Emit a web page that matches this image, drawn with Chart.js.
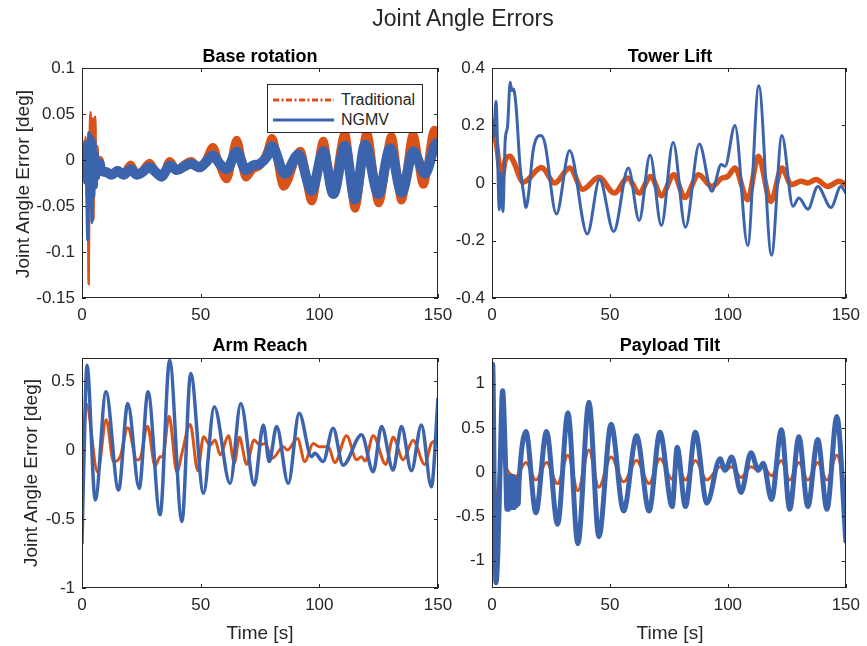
<!DOCTYPE html>
<html><head><meta charset="utf-8">
<script src="https://cdn.jsdelivr.net/npm/chart.js@4.4.1/dist/chart.umd.min.js"></script>
<style>
html,body{margin:0;padding:0;background:#fff;}
#fig{position:relative;width:867px;height:646px;overflow:hidden;font-family:'Liberation Sans',Arial,Helvetica,sans-serif;color:#262626;background:#fff;}
#fig canvas{position:absolute;left:0;top:0;}
.t{position:absolute;white-space:nowrap;transform:translate(-50%,-50%);line-height:1;z-index:5;}
.sub{font-weight:bold;font-size:18px;color:#000;}
.ax{font-size:19px;}
.rot{transform:translate(-50%,-50%) rotate(-90deg);}
#legend{position:absolute;left:267px;top:84px;width:154px;height:47px;border:1px solid #262626;background:#fff;z-index:6;font-size:16px;}
#legend svg{position:absolute;left:0;top:0;}
#legend span{position:absolute;left:73px;transform:translateY(-50%);line-height:1;}
</style>
</head><body>
<div id="fig">
<canvas id="c1" width="867" height="646"></canvas>
<canvas id="c2" width="867" height="646"></canvas>
<canvas id="c3" width="867" height="646"></canvas>
<canvas id="c4" width="867" height="646"></canvas>
<div class="t" style="left:463px;top:18px;font-size:23px;">Joint Angle Errors</div>
<div class="t sub" style="left:260px;top:56px;">Base rotation</div>
<div class="t sub" style="left:670px;top:56px;">Tower Lift</div>
<div class="t sub" style="left:260px;top:345px;">Arm Reach</div>
<div class="t sub" style="left:670px;top:345px;">Payload Tilt</div>
<div class="t ax rot" style="left:22px;top:184px;">Joint Angle Error [deg]</div>
<div class="t ax rot" style="left:30px;top:473px;">Joint Angle Error [deg]</div>
<div class="t ax" style="left:260px;top:632px;">Time [s]</div>
<div class="t ax" style="left:670px;top:632px;">Time [s]</div>
<div id="legend">
<svg width="154" height="47"><line x1="5" y1="15" x2="66" y2="15" stroke="#d95319" stroke-width="3" stroke-dasharray="6,2.5,2,2.5"/><line x1="5" y1="35" x2="66" y2="35" stroke="#3c64ad" stroke-width="3"/></svg>
<span style="top:15px;">Traditional</span>
<span style="top:35px;">NGMV</span>
</div>
</div>
<script>
// ---- tick labels ----
const timeTicks = [0, 50, 100, 150];
const baseTicks = [-0.15, -0.1, -0.05, 0, 0.05, 0.1];
const towerTicks = [-0.4, -0.2, 0, 0.2, 0.4];
const armTicks = [-1, -0.5, 0, 0.5];
const payloadTicks = [-1, -0.5, 0, 0.5, 1];
const seriesNames = ['Traditional', 'NGMV'];

// ---- Base rotation ----
const baseTradT = [0,0.5,1.0,1.5,2.0,2.4,2.8,3.2,3.6,4.0,4.4,4.8,5.2,5.6,6.0,6.5,7.0,7.5,8,10,12.5,15,17.5,20.5,23,25,28.5,31,33.5,37,40,43,46,49.5,52,55.2,58,61,65.2,69,72,75,78,80,85,92,96.8,101.7,105.3,110.8,115,120,125,130.4,134.6,139.5,143.8,148.5,150];
const baseTrad = [-0.02,0.02,-0.025,0.025,-0.04,0.01,-0.135,0.01,0.052,-0.055,0.045,-0.065,0.04,0.047,-0.03,0.015,-0.02,0.0,-0.012,-0.012,-0.016,-0.011,-0.015,-0.005,-0.015,-0.013,-0.003,-0.013,-0.019,-0.001,-0.011,-0.005,-0.001,-0.009,-0.001,0.014,-0.006,-0.021,0.022,-0.019,-0.01,-0.006,0.009,0.024,-0.029,0.01,-0.045,0.021,-0.035,0.029,-0.053,0.03,-0.047,0.026,-0.044,0.028,-0.027,0.033,0.022];
const baseNgmvT = [0,0.4,0.8,1.2,1.6,2.0,2.4,2.8,3.2,3.6,4.2,4.6,5.0,5.5,6.0,6.5,7.0,7.5,8,10,12.5,15,17.5,20.5,23,25,28.5,31,33.5,37,40,43,46,49.5,52,55.2,58,61,65.2,69,72,75,78,80,85.5,91.2,96.8,101.7,105.9,110.8,115,119.3,124.9,129.8,134.7,139.6,144.5,149.5,150];
const baseNgmv = [0.01,-0.02,0.015,-0.025,0.02,-0.035,-0.087,0.03,-0.05,0.028,-0.068,0.025,-0.04,0.02,-0.03,0.008,-0.02,-0.004,-0.012,-0.013,-0.016,-0.012,-0.016,-0.01,-0.016,-0.014,-0.008,-0.013,-0.018,-0.006,-0.011,-0.007,-0.004,-0.008,-0.003,0.005,-0.004,-0.01,0.009,-0.011,-0.006,-0.004,0.004,0.015,-0.015,0.006,-0.0335,0.0095,-0.037,0.0155,-0.043,0.0165,-0.037,0.0125,-0.0355,0.0095,-0.015,0.0185,0.013];

// ---- Tower Lift ----
const towerTradT = [0,1.8,3.5,4.3,5.6,7.7,9.1,13.3,21,26.6,32.9,38.5,45.3,51.9,57.5,62.4,67.3,71.8,77.1,81.7,87.6,93.2,97.4,100,103,108.4,112.9,118.2,122.9,126.9,131,133.9,137.4,142.3,147.2,150];
const towerTrad = [0.186,0.139,0.035,0.023,0.08,0.093,0.075,0.003,0.054,0.0,0.052,-0.022,0.02,-0.035,0.017,-0.035,0.023,-0.044,0.029,-0.05,0.029,-0.012,0.017,0.023,0.052,-0.058,0.093,-0.064,0.052,-0.006,0.006,0.0,0.012,-0.012,0.006,-0.006];
const towerNgmvT = [0,0.7,1.7,3.1,3.8,4.6,5.6,6.6,7.7,8.4,9.1,10.2,11.9,13.3,14.4,15.4,17.5,20.7,22.4,27.3,32.9,40.4,45.6,51.6,57.8,62.4,67,71.8,76.8,82,87.9,93.2,97.2,98.8,103,108.4,113.1,118.5,122.9,127.6,130.1,133.9,138.1,143.7,147.9,150];
const towerNgmv = [0.22,0.16,0.284,-0.093,0.035,-0.099,0.15,0.197,0.35,0.322,0.327,0.267,0.058,-0.03,-0.085,-0.046,0.116,0.165,0.139,-0.108,0.113,-0.177,0.012,-0.169,0.052,-0.13,0.097,-0.148,0.142,-0.154,0.136,-0.029,0.064,0.058,0.2,-0.217,0.338,-0.251,0.165,-0.081,-0.052,-0.091,-0.012,-0.085,-0.012,-0.035];

// ---- Arm Reach ----
const armTradT = [0,0.6,1.8,6.6,10.2,13.3,16.1,19.3,23.1,24.5,27.6,30.8,32.9,34,36.7,40,42.1,45.6,48.8,51.2,54,56.1,58.2,61.7,64.2,66.3,69.4,72.5,75,77.1,80.2,84.8,86.5,90.8,93.9,97.4,100,103.8,106.5,111.5,115.7,117.8,119.2,122.7,128,131.1,135.3,139.5,144.4,147.2,150];
const armTrad = [0.0,0.072,0.335,-0.16,0.22,-0.084,-0.048,0.162,-0.072,-0.06,0.172,-0.115,-0.048,-0.048,0.245,-0.162,-0.024,0.185,-0.15,0.096,0.036,0.072,-0.036,0.104,-0.092,0.092,-0.104,0.072,0.036,0.048,-0.06,0.024,0.0,0.084,-0.084,0.048,0.024,0.024,-0.092,0.104,-0.07,-0.048,-0.08,0.104,-0.104,0.092,-0.07,0.07,-0.104,0.048,0.072];
const armNgmvT = [0,0.7,2.1,5.6,10.1,15.4,19.3,24.1,27.8,32.9,36.9,42.1,45.8,51.2,55.7,62.4,66.9,72.6,76.4,78.9,82,86.9,91.5,96.7,98.1,101.6,105.8,110,117.8,122.7,126.2,131.1,134.6,138.8,143,147.2,150];
const armNgmv = [-0.675,-0.145,0.615,-0.362,0.422,-0.29,0.338,-0.278,0.422,-0.47,0.65,-0.518,0.555,-0.314,0.314,-0.242,0.338,-0.254,0.182,-0.084,0.17,-0.242,0.266,-0.048,-0.024,-0.084,0.158,-0.11,0.11,-0.158,0.17,-0.145,0.17,-0.15,0.182,-0.266,0.373];

// ---- Payload Tilt ----
const payloadTradT = [0,0.6,1.2,2.0,3.0,4.2,5.5,7.7,10,14.4,18.6,23.1,27.8,32.2,36.4,41.1,45.3,50.5,55.8,61.3,66.6,71.2,76.4,78.5,82,86.2,91.1,96.7,98.8,101.6,105.6,109.8,112.9,115,118.5,122.7,126.2,130.1,133.9,138.1,142,146.2,150];
const payloadTrad = [0.26,0.1,-0.2,-0.4,-0.05,0.25,0.08,-0.02,-0.05,0.11,-0.09,0.11,-0.13,0.19,-0.21,0.25,-0.17,0.17,-0.11,0.13,-0.13,0.15,-0.08,0.075,-0.09,0.13,-0.09,0.06,0.02,0.06,-0.06,0.06,0.02,0.06,-0.04,0.13,-0.09,0.11,-0.09,0.11,-0.09,0.19,-0.21];
const payloadNgmvT = [0,0.3,1.0,1.7,2.5,3.2,4.5,5.8,6.3,6.7,7.1,7.5,7.9,8.3,8.7,9.1,9.5,9.9,10.3,10.7,11.1,11.5,14.4,18.6,23.1,27.8,32.2,36.4,41.1,45.3,50.5,55.8,61.3,66.6,71.2,76.4,78.5,82,86.2,91.1,96.7,98.8,101.6,105.6,109.8,112.9,115,118.5,122.7,126.2,130.1,133.9,138.1,142,146.2,150];
const payloadNgmv = [0.0,1.22,-0.3,-1.25,-0.9,-0.2,0.92,0.05,-0.42,-0.08,-0.42,-0.05,-0.4,-0.08,-0.4,-0.05,-0.4,-0.1,-0.38,-0.08,-0.36,-0.1,0.46,-0.46,0.46,-0.59,0.67,-0.81,0.79,-0.73,0.54,-0.44,0.41,-0.44,0.45,-0.39,0.28,-0.39,0.45,-0.35,0.15,0.02,0.17,-0.23,0.22,0.02,0.1,-0.31,0.48,-0.42,0.4,-0.39,0.37,-0.42,0.63,-0.78];

const ORANGE = '#d95319';
const BLUE = '#3c64ad';
const INK = '#262626';
const FONT = "'Liberation Sans', Arial, Helvetica, sans-serif";

const pts = (t, v) => t.map((x, i) => ({x: x, y: v[i]}));

const frame = {
  id: 'frame',
  afterDatasetsDraw(chart) {
    const ctx = chart.ctx, a = chart.chartArea, xs = chart.scales.x, ys = chart.scales.y;
    const L = 4;
    ctx.save();
    ctx.strokeStyle = INK;
    ctx.lineWidth = 1;
    ctx.beginPath();
    xs.ticks.forEach(t => {
      const p = Math.round(xs.getPixelForValue(t.value)) + 0.5;
      ctx.moveTo(p, a.bottom); ctx.lineTo(p, a.bottom - L);
      ctx.moveTo(p, a.top); ctx.lineTo(p, a.top + L);
    });
    ys.ticks.forEach(t => {
      const p = Math.round(ys.getPixelForValue(t.value)) + 0.5;
      ctx.moveTo(a.left, p); ctx.lineTo(a.left + L, p);
      ctx.moveTo(a.right, p); ctx.lineTo(a.right - L, p);
    });
    ctx.stroke();
    ctx.strokeRect(Math.round(a.left) + 0.5, Math.round(a.top) + 0.5, Math.round(a.right - a.left) - 1, Math.round(a.bottom - a.top) - 1);
    ctx.restore();
  }
};

// widths: [traditional early, traditional main, ngmv early, ngmv main], early = t < splitT
function makeChart(id, plot, yTicks, yMin, yMax, tradT, trad, ngmvT, ngmv, w, splitT) {
  const padBottom = 646 - plot.bottom - 40;
  const segW = (early, main) => ({borderWidth: c => (c.p0.parsed.x < splitT ? early : main)});
  return new Chart(document.getElementById(id), {
    type: 'line',
    data: {
      datasets: [
        {label: seriesNames[0], data: pts(tradT, trad), borderColor: ORANGE, borderWidth: w[1], segment: segW(w[0], w[1]), order: 2},
        {label: seriesNames[1], data: pts(ngmvT, ngmv), borderColor: BLUE, borderWidth: w[3], segment: segW(w[2], w[3]), order: 1}
      ]
    },
    options: {
      responsive: false,
      animation: false,
      events: [],
      layout: {padding: {left: plot.left - 60, right: 867 - plot.right, top: plot.top, bottom: padBottom}},
      elements: {
        point: {radius: 0},
        line: {cubicInterpolationMode: 'monotone', borderJoinStyle: 'round', borderCapStyle: 'round', fill: false}
      },
      datasets: {line: {clip: 0}},
      plugins: {legend: {display: false}, tooltip: {enabled: false}, title: {display: false}},
      scales: {
        x: {
          type: 'linear', min: 0, max: 150, bounds: 'data',
          grid: {display: false, drawTicks: false}, border: {display: false},
          afterBuildTicks: s => { s.ticks = timeTicks.map(v => ({value: v})); },
          afterFit: s => { s.height = 40; },
          ticks: {color: INK, font: {family: FONT, size: 17}, padding: 7, maxRotation: 0, autoSkip: false, callback: v => String(v)}
        },
        y: {
          type: 'linear', min: yMin, max: yMax, bounds: 'data',
          grid: {display: false, drawTicks: false}, border: {display: false},
          afterBuildTicks: s => { s.ticks = yTicks.map(v => ({value: v})); },
          afterFit: s => { s.width = 60; },
          ticks: {color: INK, font: {family: FONT, size: 17}, padding: 7, autoSkip: false, callback: v => String(v)}
        }
      }
    },
    plugins: [frame]
  });
}

makeChart('c1', {left: 82, right: 438, top: 68, bottom: 298}, baseTicks, -0.15, 0.1, baseTradT, baseTrad, baseNgmvT, baseNgmv, [2.5, 8, 3, 10], 7.5);
makeChart('c2', {left: 492, right: 848, top: 68, bottom: 298}, towerTicks, -0.4, 0.4, towerTradT, towerTrad, towerNgmvT, towerNgmv, [5.5, 5.5, 3, 3], 0);
makeChart('c3', {left: 82, right: 438, top: 358, bottom: 588}, armTicks, -1, 0.667, armTradT, armTrad, armNgmvT, armNgmv, [3, 3, 3.5, 3.5], 0);
makeChart('c4', {left: 492, right: 848, top: 358, bottom: 588}, payloadTicks, -1.31, 1.29, payloadTradT, payloadTrad, payloadNgmvT, payloadNgmv, [3, 3, 5, 5], 0);
</script>
</body></html>
